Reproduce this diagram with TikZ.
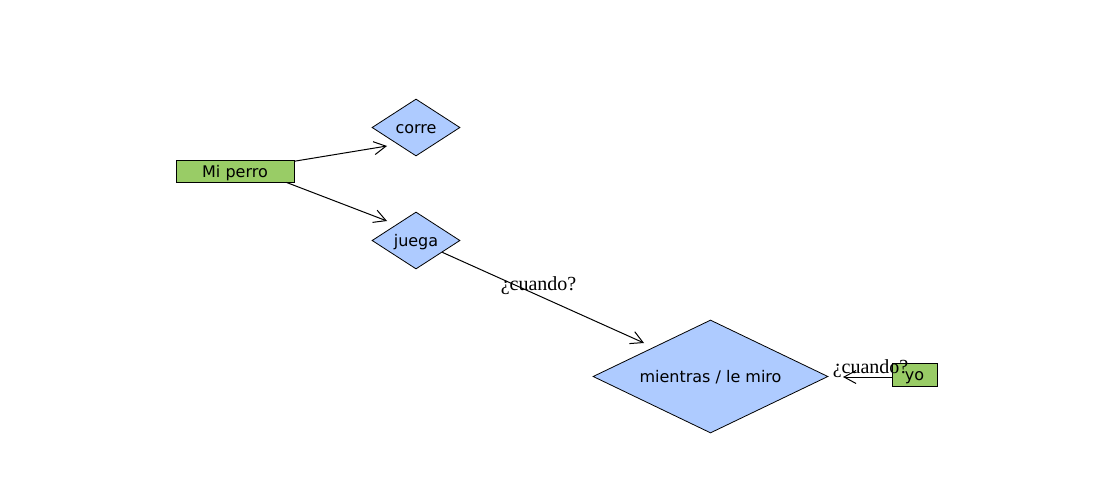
\documentclass[tikz,border=0pt]{standalone}
\usepackage{fontspec}
\setmainfont{DejaVu Sans}
\newfontfamily\askfont{Liberation Serif}
\usetikzlibrary{shapes.geometric,arrows.meta}
\definecolor{subjectgreen}{RGB}{153,204,102}
\definecolor{actionblue}{RGB}{174,203,255}
\tikzset{
  subject/.style  = {shape=rectangle, draw, fill=subjectgreen,
                     inner sep=0pt, line width=0.8pt,
                     text height=12.4pt, text depth=0pt,
                     font=\fontsize{16}{19}\selectfont},
  action/.style   = {shape=diamond, draw, fill=actionblue,
                     inner sep=0pt, aspect=1.6, line width=0.8pt,
                     text height=12.4pt, text depth=0pt,
                     font=\fontsize{16}{19}\selectfont},
  link/.style     = {-{Straight Barb[length=12pt,width=13pt]}, line width=1pt},
  asklabel/.style = {inner sep=0pt, font=\askfont\fontsize{20}{24}\selectfont}
}

\begin{document}
\begin{tikzpicture}[x=1pt, y=-1pt]
  \useasboundingbox (0,0) rectangle (1100,500);

  \node[subject, minimum width=118pt, minimum height=22pt] (perro) at (235,171) {Mi perro};
  \node[action, minimum width=88pt, minimum height=57pt] (corre) at (416,127.5) {corre};
  \node[action, minimum width=88pt, minimum height=57pt] (juega) at (416,240.5) {juega};
  \node[action, minimum width=235pt, minimum height=113pt] (mientras) at (710.5,376.5) {mientras / le miro};
  \node[subject, minimum width=45pt, minimum height=23pt] (yo) at (914.5,374.5) {yo};

  % where the arrows stop
  \coordinate (corre-in)    at (387,146);
  \coordinate (juega-in)    at (387,221);
  \coordinate (mientras-in) at (644,343);
  \coordinate (mientras-r)  at (843,377);

  \draw[link] (perro) -- (corre-in);
  \draw[link] ([xshift=-8pt]perro.south east) -- (juega-in);
  \draw[link] (juega) -- (mientras-in);
  \draw[link] ([yshift=-2.5pt]yo.west) -- (mientras-r);

  \node[asklabel] (ask-juega) at (538.5,285.5) {¿cuando?};
  \node[asklabel] (ask-yo)    at (870.5,368.5) {¿cuando?};
\end{tikzpicture}
\end{document}
